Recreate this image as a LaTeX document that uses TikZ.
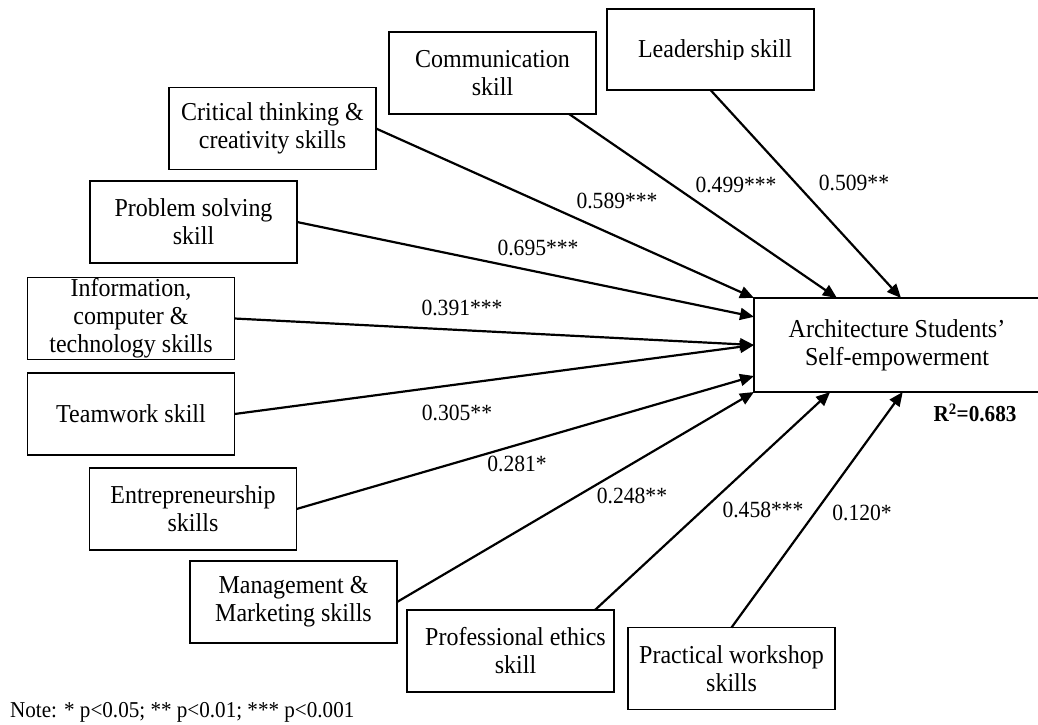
\documentclass[tikz,border=0pt]{standalone}
\usepackage{fontspec}
\setmainfont{Liberation Serif}[FakeStretch=0.93]
\usetikzlibrary{arrows.meta,calc}
\tikzset{
  skillbox/.style={draw, line width=1.6pt, minimum width=207pt, minimum height=82pt,
    align=center, inner sep=0pt, outer sep=0pt, font=\fontsize{25.8}{28}\selectfont},
  conn/.style={line width=2.2pt, -{Triangle[length=14pt,width=12pt]}},
  coef/.style={font=\fontsize{23.2}{26}\selectfont, inner sep=0pt},
}
\begin{document}
\begin{tikzpicture}[x=1pt,y=-1pt]
\useasboundingbox (0,0) rectangle (1038,724);
% target
\node[skillbox, minimum width=286pt, minimum height=94pt] (tgt) at (897,345)
  {Architecture Students'\\Self-empowerment};
\node[font=\fontsize{22.8}{26}\selectfont\bfseries, inner sep=0pt] (r2) at (975,413) {R\textsuperscript{2}=0.683};
% skill boxes
\node[skillbox] (crit) at (272.5,128.5) {Critical thinking \&\\creativity skills};
\node[skillbox] (comm) at (492.5,73) {Communication\\skill};
\node[skillbox, minimum height=81pt] (lead) at (710.5,49.5) {};
\begin{scope}
  \clip (607,9) rectangle (814,59);
  \node[font=\fontsize{25.8}{28}\selectfont, anchor=base, inner sep=0pt] (leadtxt) at (715,57) {Leadership skill};
\end{scope}
\node[skillbox] (prob) at (193.5,222) {Problem solving\\skill};
\node[skillbox] (info) at (131,318.5) {Information,\\computer \&\\technology skills};
\node[skillbox] (team) at (131,414) {Teamwork skill};
\node[skillbox] (ent) at (193,509) {Entrepreneurship\\skills};
\node[skillbox] (mgmt) at (293.5,602) {Management \&\\Marketing skills};
\node[skillbox] (prof) at (510.5,651) {\hspace*{10pt}Professional ethics\\\hspace*{10pt}skill};
\node[skillbox] (prac) at (731.5,668.5) {Practical workshop\\skills};
% connectors
\draw[conn] (crit.east) -- (tgt.north west);
\draw[conn] ($(comm.south west)!0.87!(comm.south east)$) -- ($(tgt.north west)!0.29!(tgt.north east)$);
\draw[conn] (lead.south) -- ($(tgt.north west)!0.514!(tgt.north east)$);
\draw[conn] (prob.east) -- ($(tgt.north west)!0.2!(tgt.south west)$);
\draw[conn] (info.east) -- (tgt.west);
\draw[conn] (team.east) -- (tgt.west);
\draw[conn] (ent.east) -- ($(tgt.north west)!0.83!(tgt.south west)$);
\draw[conn] (mgmt.east) -- (tgt.south west);
\draw[conn] ($(prof.north west)!0.908!(prof.north east)$) -- ($(tgt.south west)!0.266!(tgt.south east)$);
\draw[conn] (prac.north) -- ($(tgt.south west)!0.52!(tgt.south east)$);
% coefficients
\node[coef] (c1) at (617,201) {0.589***};
\node[coef] (c2) at (736,185) {0.499***};
\node[coef] (c3) at (854,183) {0.509**};
\node[coef] (c4) at (538,248) {0.695***};
\node[coef] (c5) at (462,308) {0.391***};
\node[coef] (c6) at (457,413) {0.305**};
\node[coef] (c7) at (517,464) {0.281*};
\node[coef] (c8) at (632,496) {0.248**};
\node[coef] (c9) at (763,510) {0.458***};
\node[coef] (c10) at (862,513) {0.120*};
% note
\node[font=\fontsize{22.7}{26}\selectfont, inner sep=0pt, anchor=west] (note) at (10,712) {Note: * p<0.05; ** p<0.01; *** p<0.001};
\end{tikzpicture}
\end{document}
